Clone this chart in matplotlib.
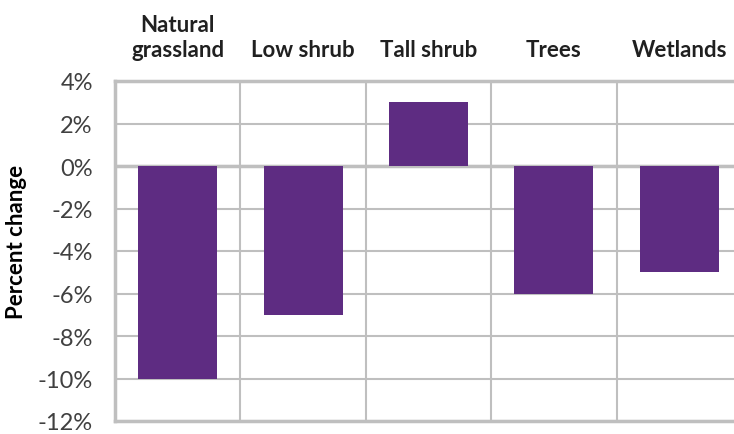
import matplotlib.pyplot as plt
import numpy as np

# data
categories = ['Natural\ngrassland', 'Low shrub', 'Tall shrub', 'Trees', 'Wetlands']
values = [-10, -7, 3, -6, -5]
yticks = [4, 2, 0, -2, -4, -6, -8, -10, -12]

bar_color = '#5E2C82'
grid_color = '#BFBFBF'

plt.rcParams['font.family'] = ['Lato', 'DejaVu Sans']

fig = plt.figure(figsize=(7.34, 4.35), dpi=100)
# right edge of the plot runs past the image edge, as in the original
ax = fig.add_axes([115/734, 1-422/435, (742-115)/734, (422-82)/435])

x = np.arange(len(categories))
ax.bar(x, values, width=0.63, color=bar_color, zorder=3)

ax.set_xlim(-0.5, len(categories)-0.5)
ax.set_ylim(-12, 4)
ax.set_yticks(yticks)
ax.set_yticklabels(['%d%%' % v for v in yticks], fontsize=17, color='#404040')

# category names on top
ax.xaxis.tick_top()
ax.set_xticks(x)
ax.set_xticklabels(categories, fontsize=16, fontweight='bold', color='#202020',
                   linespacing=1.25)
ax.tick_params(axis='x', length=0, pad=15)
ax.tick_params(axis='y', length=0, pad=16)

# gridlines: horizontal at each tick, vertical between categories
ax.set_xticks(np.arange(len(categories)-1)+0.5, minor=True)
ax.tick_params(axis='x', which='minor', length=0)
ax.grid(axis='x', which='minor', color=grid_color, linewidth=1.5, zorder=0)
ax.grid(axis='y', which='major', color=grid_color, linewidth=1.5, zorder=0)
ax.axhline(0, color=grid_color, linewidth=2.5, zorder=1)

for s in ax.spines.values():
    s.set_color(grid_color)
    s.set_linewidth(2.5)

ax.set_ylabel('Percent change', fontsize=16, fontweight='bold')
ax.yaxis.set_label_coords(-88/627, 0.53)

fig.savefig('out.png', dpi=100)
